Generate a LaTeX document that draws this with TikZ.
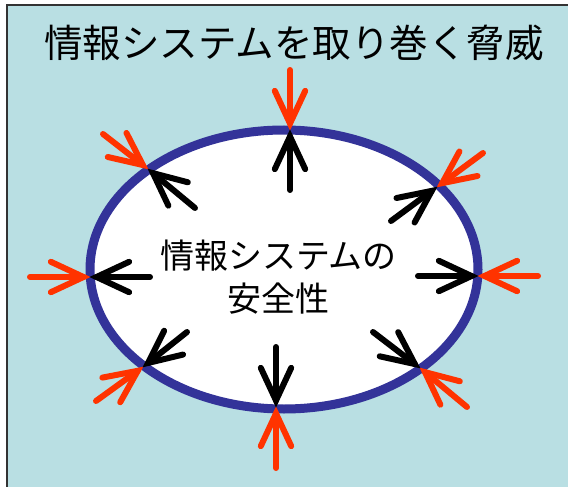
\documentclass[tikz,border=0pt]{standalone}
\usepackage{fontspec}
\newfontfamily\jp{Noto Sans CJK JP}
\usetikzlibrary{calc,shapes.geometric}
\definecolor{bgteal}{HTML}{B9DFE3}
\definecolor{ringblue}{HTML}{333399}
\definecolor{threatred}{HTML}{FF3300}
\definecolor{framegray}{HTML}{333333}
\tikzset{
  spikeline/.style={line width=6pt, line cap=round, line join=miter},
  ring/.style={ellipse, draw=ringblue, fill=white, line width=9pt, inner sep=0pt,
    minimum width=388pt, minimum height=279pt},
}
\newcommand\spike[3]{%
  \coordinate (v) at ($(#2)!6.5pt!(#1)$);
  \draw[spikeline,#3] (#1) -- (v);
  \draw[spikeline,#3] ($(v)!36pt!25:(#1)$) -- (v) -- ($(v)!36pt!-25:(#1)$);
}
\begin{document}
\begin{tikzpicture}[x=1pt,y=-1pt]
  \useasboundingbox (0,0) rectangle (568,487);
  \fill[white] (0,0) rectangle (568,487);
  \fill[bgteal] (7,5) rectangle (568,487);
  \draw[framegray, line width=1.5pt] (7,487) -- (7,5) -- (568,5);

  \node[font=\jp\fontsize{38.5}{40}\selectfont] (title) at (294,43) {情報システムを取り巻く脅威};

  \node[ring] (ring) at (284,269.5) {};
  \node[align=center, font=\jp\fontsize{34}{43}\selectfont] (safety) at (278.5,277) {情報システムの\\安全性};

  % tips on the ring
  \coordinate (tT) at (290,130);
  \coordinate (tB) at (276,407);
  \coordinate (tL) at (90,277);
  \coordinate (tR) at (478,276);
  \coordinate (tUL) at (148,169);
  \coordinate (tUR) at (437,187);
  \coordinate (tLL) at (143,367);
  \coordinate (tLR) at (420,368);
  % red tails (outside)
  \coordinate (rT) at (290,70);
  \coordinate (rB) at (276,468);
  \coordinate (rL) at (30,277);
  \coordinate (rR) at (538,276);
  \coordinate (rUL) at (103,134);
  \coordinate (rUR) at (483,153);
  \coordinate (rLL) at (96,401);
  \coordinate (rLR) at (467,407);
  % black tails (inside)
  \coordinate (bT) at (290,190);
  \coordinate (bB) at (276,347);
  \coordinate (bL) at (150,277);
  \coordinate (bR) at (418,276);
  \coordinate (bUL) at (195,208);
  \coordinate (bUR) at (391,221);
  \coordinate (bLL) at (187,332);
  \coordinate (bLR) at (373,332);

  \foreach \p in {T,B,L,R,UL,UR,LL,LR}{
    \spike{r\p}{t\p}{threatred}
    \spike{b\p}{t\p}{black}
  }
\end{tikzpicture}
\end{document}
